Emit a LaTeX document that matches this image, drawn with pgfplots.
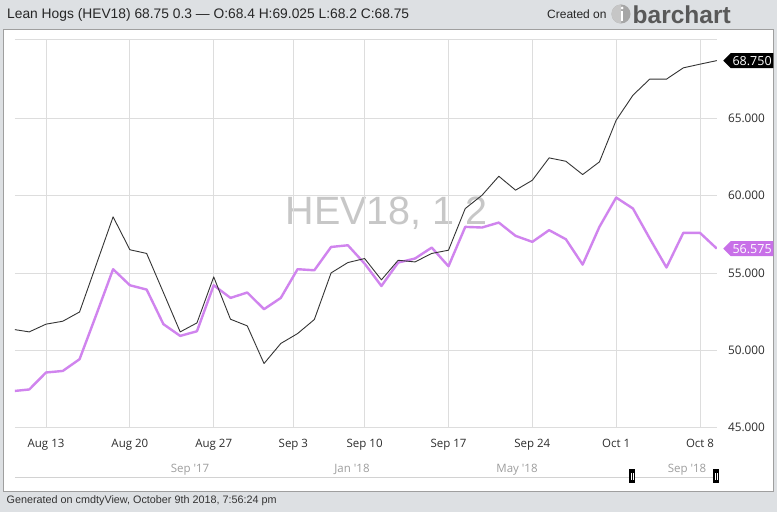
\documentclass[border=0pt]{standalone}
\usepackage{fontspec}
\setmainfont{Open Sans}
\newfontfamily\lsans{Liberation Sans}
\usepackage{pgfplots}
\usepackage{pgfplotstable}
\pgfplotsset{compat=1.18}
\usetikzlibrary{shapes.symbols}

\definecolor{bg}{RGB}{221,224,227}
\definecolor{gridc}{RGB}{221,221,221}
\definecolor{hogline}{RGB}{52,52,52}
\definecolor{violet}{RGB}{208,132,238}
\definecolor{violetbox}{RGB}{200,112,232}
\definecolor{lab}{RGB}{45,45,45}

% trading day index, HEV18 close, comparison series
\pgfplotstableread{
idx  hev    cmp
0    51.35  47.34
1    51.18  47.45
2    51.68  48.55
3    51.87  48.65
4    52.47  49.41
5    55.55  52.30
6    58.63  55.24
7    56.50  54.20
8    56.26  53.92
9    53.73  51.68
10   51.18  50.92
11   51.76  51.22
12   54.74  54.20
13   52.00  53.38
14   51.57  53.73
15   49.13  52.65
16   50.43  53.38
17   51.07  55.24
18   51.98  55.17
19   55.00  56.68
20   55.67  56.79
21   55.93  55.60
22   54.55  54.15
23   55.82  55.67
24   55.71  55.93
25   56.26  56.64
26   56.47  55.43
27   59.17  57.98
28   60.03  57.94
29   61.26  58.26
30   60.36  57.40
31   61.00  57.01
32   62.45  57.77
33   62.23  57.18
34   61.37  55.54
35   62.19  57.98
36   64.89  59.88
37   66.51  59.17
38   67.55  57.23
39   67.55  55.35
40   68.28  57.59
41   68.52  57.59
42   68.75  56.575
}\hogs

\begin{document}
\begin{tikzpicture}
% everything outside the axis is laid out in pixel-like pt, origin = page corner
\begin{scope}[x=1pt, y=1pt, shift={(-15pt,-84.7pt)}]
\fill[bg] (0,0) rectangle (777,512);
\filldraw[fill=white, draw=gray!75, line width=0.8pt] (3.5,21) rectangle (773.5,483);

% header
\node[anchor=base west, inner sep=0, text=black!85] at (7,493.7)
  {\lsans\fontsize{13.8}{15}\selectfont Lean Hogs (HEV18) 68.75 0.3 — O:68.4 H:69.025 L:68.2 C:68.75};
\node[anchor=base west, inner sep=0, text=black!85] at (547,493.7)
  {\lsans\fontsize{12}{14}\selectfont Created on};
\fill[gray!70] (621,498) circle (9.5);
\fill[gray!45] (621,498) ++(90:9.5) arc (90:270:9.5) -- cycle;
\draw[white, line width=2.6pt] (622,490.5) -- (622,500.5);
\fill[white] (622,504) circle (1.5);
\node[anchor=base west, inner sep=0, text=black!65] at (632.5,488.7)
  {\lsans\bfseries\fontsize{24.5}{26}\selectfont barchart};

% watermark
\node[anchor=base west, inner sep=0, text=black!22] at (285.5,287)
  {\lsans\fontsize{39.5}{42}\selectfont HEV18, 1 2};

% range navigator
\draw[gray!35, line width=0.8pt] (15,34.7) -- (717,34.7);
\foreach \lx/\lt in {190/Sep \textquotesingle17, 352/Jan \textquotesingle18,
                     517/May \textquotesingle18, 687/Sep \textquotesingle18}
  \node[anchor=base, inner sep=0, text=black!38] at (\lx,39.3)
    {\fontsize{11.5}{13}\selectfont \lt};
\foreach \hx in {632,716}{
  \fill[black] (\hx-3.2,29) rectangle (\hx+3.2,43);
  \draw[white, line width=0.7pt] (\hx-1,32.5) -- (\hx-1,39.5);
  \draw[white, line width=0.7pt] (\hx+1,32.5) -- (\hx+1,39.5);
}

% footer
\node[anchor=base west, inner sep=0, text=black!80] at (6.5,8.7)
  {\lsans\fontsize{10.8}{12}\selectfont Generated on cmdtyView, October 9th 2018, 7:56:24 pm};
\end{scope}

\begin{axis}[
    at={(0pt,0pt)}, anchor=south west,
    scale only axis, width=701.8pt, height=388pt,
    xmin=0.15, xmax=42, ymin=45, ymax=70.13,
    clip mode=individual,
    axis line style={draw=none},
    major tick length=0pt,
    grid=major,
    grid style={gridc, line width=0.8pt},
    xtick={2,7,12,16.75,21,26,31,36,41},
    xticklabels={Aug 13,Aug 20,Aug 27,Sep 3,Sep 10,Sep 17,Sep 24,Oct 1,Oct 8},
    ytick={45,50,55,60,65},
    yticklabels={45.000,50.000,55.000,60.000,65.000},
    extra y ticks={70.13},
    extra y tick labels={},
    yticklabel pos=right,
    xticklabel style={anchor=base, yshift=-20pt, inner sep=0pt,
        text=lab, font=\fontsize{11.5}{13}\selectfont},
    yticklabel style={anchor=west, xshift=11pt, inner sep=0pt,
        text=lab, font=\fontsize{11.8}{13}\selectfont},
]
\addplot[violet, line width=2.4pt, line join=round] table[x=idx, y=cmp] {\hogs};
\addplot[hogline, line width=0.9pt, line join=round] table[x=idx, y=hev] {\hogs};

\node[signal, signal to=west, fill=black, text=white, anchor=west,
      minimum height=15pt, inner xsep=1.8pt, inner ysep=0pt,
      font=\fontsize{12.5}{14}\selectfont]
  at (axis cs:42,68.75) [xshift=6.2pt] {68.750};
\node[signal, signal to=west, fill=violetbox, text=white, anchor=west,
      minimum height=15pt, inner xsep=1.8pt, inner ysep=0pt,
      font=\fontsize{12.5}{14}\selectfont]
  at (axis cs:42,56.575) [xshift=6.2pt] {56.575};
\end{axis}
\end{tikzpicture}
\end{document}
